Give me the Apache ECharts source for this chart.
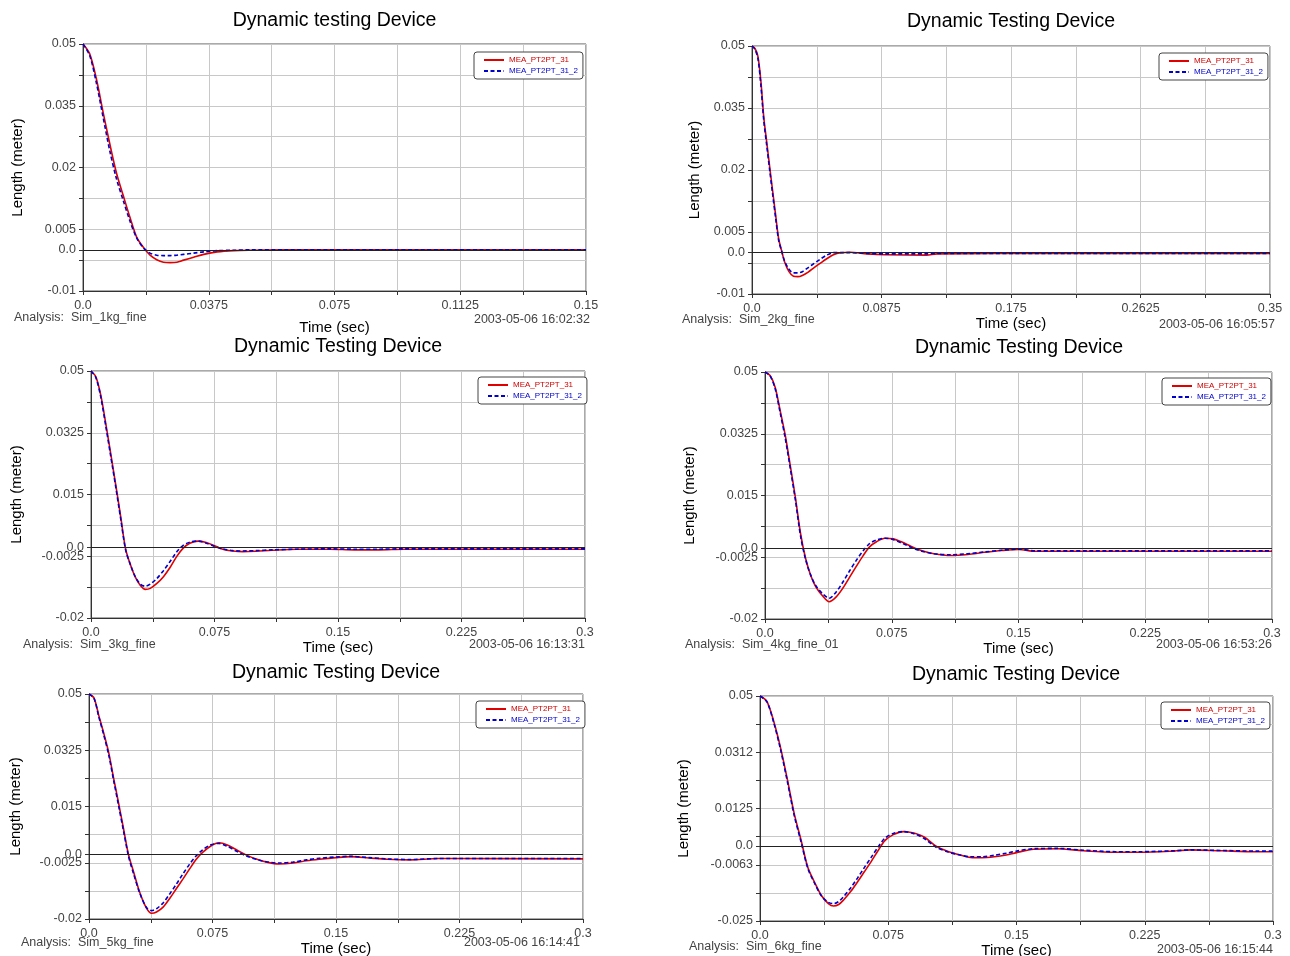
<!DOCTYPE html>
<html><head><meta charset="utf-8">
<script src="https://cdn.jsdelivr.net/npm/echarts@6/dist/echarts.min.js"></script>
<style>html,body{margin:0;padding:0;background:#fff}#c{width:1290px;height:956px}</style>
</head><body><div id="c"></div>
<script>
// ---------- data ----------
const seriesNames = ['MEA_PT2PT_31', 'MEA_PT2PT_31_2'];

const time1 = [0, 0.002, 0.004, 0.006, 0.008, 0.010, 0.012, 0.014, 0.016, 0.018, 0.020, 0.022, 0.024, 0.026, 0.028, 0.030, 0.033, 0.036, 0.040, 0.045, 0.050, 0.060, 0.080, 0.100, 0.120, 0.150];
const red1 = [0.05, 0.0476, 0.0415, 0.0334, 0.0257, 0.0186, 0.0132, 0.0079, 0.0031, 0.0006, -0.0013, -0.0024, -0.0030, -0.0031, -0.0030, -0.0025, -0.0018, -0.0011, -0.0005, -0.0002, -0.0001, 0, 0, 0, 0, 0];
const blue1 = [0.05, 0.0472, 0.0405, 0.0322, 0.0240, 0.0172, 0.0120, 0.0070, 0.0029, 0.0005, -0.0008, -0.0013, -0.0014, -0.0014, -0.0013, -0.0011, -0.0008, -0.0005, -0.0002, -0.0001, 0, 0, 0, 0, 0, 0];

const time2 = [0, 0.002, 0.004, 0.006, 0.008, 0.010, 0.012, 0.014, 0.016, 0.018, 0.020, 0.022, 0.025, 0.028, 0.031, 0.034, 0.038, 0.042, 0.046, 0.050, 0.055, 0.060, 0.066, 0.078, 0.090, 0.118, 0.125, 0.200, 0.350];
const red2 = [0.05, 0.0494, 0.0475, 0.0415, 0.0326, 0.0266, 0.0206, 0.0148, 0.0090, 0.0034, 0.0005, -0.0022, -0.0046, -0.0057, -0.0058, -0.0055, -0.0047, -0.0036, -0.0026, -0.0016, -0.0005, 0, 0.0001, -0.0003, -0.0005, -0.0006, -0.0003, -0.0002, -0.0002];
const blue2 = [0.05, 0.0492, 0.0470, 0.0405, 0.0318, 0.0258, 0.0198, 0.0140, 0.0083, 0.0030, 0.0004, -0.0020, -0.0040, -0.0049, -0.0049, -0.0046, -0.0036, -0.0026, -0.0016, -0.0007, 0, 0, 0, -0.0002, -0.0003, -0.0003, -0.0002, -0.0002, -0.0002];

const time3 = [0, 0.003, 0.006, 0.009, 0.012, 0.015, 0.018, 0.021, 0.024, 0.027, 0.030, 0.033, 0.036, 0.040, 0.044, 0.048, 0.052, 0.056, 0.060, 0.065, 0.070, 0.075, 0.080, 0.086, 0.092, 0.100, 0.110, 0.125, 0.145, 0.160, 0.175, 0.190, 0.300];
const red3 = [0.05, 0.0483, 0.0430, 0.0350, 0.0265, 0.0178, 0.0088, -0.0004, -0.0050, -0.0085, -0.0108, -0.0119, -0.0116, -0.0102, -0.0083, -0.0057, -0.0026, -0.0002, 0.0012, 0.0018, 0.0014, 0.0005, -0.0005, -0.0010, -0.0012, -0.0011, -0.0008, -0.0005, -0.0005, -0.0007, -0.0007, -0.0005, -0.0005];
const blue3 = [0.05, 0.0481, 0.0425, 0.0343, 0.0258, 0.0172, 0.0082, -0.0006, -0.0050, -0.0084, -0.0104, -0.0110, -0.0104, -0.0088, -0.0066, -0.0040, -0.0013, 0.0006, 0.0015, 0.0018, 0.0012, 0.0003, -0.0004, -0.0009, -0.0010, -0.0009, -0.0007, -0.0005, -0.0004, -0.0005, -0.0005, -0.0004, -0.0004];

const time4 = [0, 0.003, 0.006, 0.009, 0.012, 0.015, 0.018, 0.021, 0.024, 0.027, 0.030, 0.034, 0.038, 0.042, 0.046, 0.050, 0.054, 0.058, 0.062, 0.066, 0.071, 0.076, 0.081, 0.086, 0.092, 0.100, 0.110, 0.120, 0.130, 0.140, 0.150, 0.160, 0.300];
const red4 = [0.05, 0.0490, 0.0457, 0.0390, 0.0320, 0.0233, 0.0144, 0.0043, -0.0028, -0.0076, -0.0108, -0.0134, -0.0151, -0.0138, -0.0113, -0.0082, -0.0051, -0.0021, 0.0005, 0.0019, 0.0029, 0.0027, 0.0018, 0.0007, -0.0005, -0.0015, -0.0020, -0.0017, -0.0011, -0.0006, -0.0003, -0.0008, -0.0008];
const blue4 = [0.05, 0.0489, 0.0453, 0.0384, 0.0312, 0.0226, 0.0137, 0.0036, -0.0031, -0.0075, -0.0105, -0.0128, -0.0141, -0.0124, -0.0096, -0.0064, -0.0034, -0.0007, 0.0014, 0.0024, 0.0029, 0.0025, 0.0015, 0.0004, -0.0007, -0.0015, -0.0018, -0.0015, -0.0010, -0.0005, -0.0002, -0.0007, -0.0007];

const time5 = [0, 0.003, 0.006, 0.009, 0.012, 0.015, 0.018, 0.021, 0.024, 0.027, 0.031, 0.035, 0.038, 0.041, 0.045, 0.049, 0.053, 0.057, 0.061, 0.065, 0.069, 0.074, 0.079, 0.084, 0.090, 0.096, 0.102, 0.108, 0.115, 0.124, 0.132, 0.140, 0.150, 0.159, 0.170, 0.181, 0.195, 0.212, 0.300];
const red5 = [0.05, 0.0488, 0.0432, 0.0377, 0.0317, 0.0237, 0.0160, 0.0080, 0.0000, -0.0052, -0.0120, -0.0167, -0.0182, -0.0178, -0.0163, -0.0136, -0.0106, -0.0076, -0.0045, -0.0015, 0.0007, 0.0027, 0.0037, 0.0030, 0.0014, -0.0002, -0.0014, -0.0023, -0.0029, -0.0026, -0.0019, -0.0014, -0.0009, -0.0006, -0.0010, -0.0014, -0.0016, -0.0012, -0.0013];
const blue5 = [0.05, 0.0487, 0.0428, 0.0372, 0.0310, 0.0230, 0.0152, 0.0073, -0.0005, -0.0058, -0.0122, -0.0165, -0.0174, -0.0168, -0.0150, -0.0122, -0.0092, -0.0060, -0.0030, -0.0004, 0.0015, 0.0031, 0.0035, 0.0026, 0.0010, -0.0005, -0.0015, -0.0022, -0.0026, -0.0023, -0.0016, -0.0011, -0.0007, -0.0005, -0.0009, -0.0013, -0.0015, -0.0012, -0.0012];

const time6 = [0, 0.004, 0.008, 0.012, 0.016, 0.020, 0.024, 0.028, 0.032, 0.036, 0.040, 0.043, 0.046, 0.049, 0.053, 0.057, 0.061, 0.065, 0.069, 0.073, 0.078, 0.084, 0.090, 0.096, 0.103, 0.110, 0.117, 0.123, 0.130, 0.137, 0.144, 0.150, 0.160, 0.174, 0.189, 0.208, 0.222, 0.242, 0.252, 0.270, 0.290, 0.300];
const red6 = [0.05, 0.0482, 0.0416, 0.0328, 0.0222, 0.0108, 0.0020, -0.0072, -0.0122, -0.0166, -0.0192, -0.0200, -0.0195, -0.0179, -0.0152, -0.0120, -0.0086, -0.0052, -0.0016, 0.0018, 0.0038, 0.0048, 0.0043, 0.0030, -0.0001, -0.0018, -0.0030, -0.0038, -0.0039, -0.0036, -0.0030, -0.0022, -0.0011, -0.0009, -0.0016, -0.0021, -0.0021, -0.0017, -0.0013, -0.0016, -0.0019, -0.0019];
const blue6 = [0.05, 0.0481, 0.0412, 0.0322, 0.0215, 0.0102, 0.0014, -0.0075, -0.0125, -0.0167, -0.0188, -0.0192, -0.0185, -0.0168, -0.0140, -0.0107, -0.0072, -0.0038, -0.0004, 0.0026, 0.0042, 0.0048, 0.0041, 0.0025, -0.0004, -0.0020, -0.0030, -0.0036, -0.0036, -0.0031, -0.0024, -0.0017, -0.0009, -0.0008, -0.0014, -0.0019, -0.0019, -0.0016, -0.0013, -0.0015, -0.0017, -0.0017];

// ---------- tick values and tick labels ----------
const xTicks1 = [0, 0.01875, 0.0375, 0.05625, 0.075, 0.09375, 0.1125, 0.13125, 0.15];
const xLabels1 = ['0.0', '', '0.0375', '', '0.075', '', '0.1125', '', '0.15'];
const xTicks2 = [0, 0.04375, 0.0875, 0.13125, 0.175, 0.21875, 0.2625, 0.30625, 0.35];
const xLabels2 = ['0.0', '', '0.0875', '', '0.175', '', '0.2625', '', '0.35'];
const xTicks3 = [0, 0.0375, 0.075, 0.1125, 0.15, 0.1875, 0.225, 0.2625, 0.3];
const xLabels3 = ['0.0', '', '0.075', '', '0.15', '', '0.225', '', '0.3'];

const yTicksA = [-0.01, -0.0025, 0, 0.005, 0.0125, 0.02, 0.0275, 0.035, 0.0425, 0.05];
const yLabelsA = ['-0.01', '', '0.0', '0.005', '', '0.02', '', '0.035', '', '0.05'];
const yTicksB = [-0.02, -0.01125, -0.0025, 0, 0.00625, 0.015, 0.02375, 0.0325, 0.04125, 0.05];
const yLabelsB = ['-0.02', '', '-0.0025', '0.0', '', '0.015', '', '0.0325', '', '0.05'];
const yTicksC = [-0.025, -0.015625, -0.00625, 0, 0.003125, 0.0125, 0.021875, 0.03125, 0.040625, 0.05];
const yLabelsC = ['-0.025', '', '-0.0063', '0.0', '', '0.0125', '', '0.0312', '', '0.05'];

const titles = ['Dynamic testing Device', 'Dynamic Testing Device', 'Dynamic Testing Device', 'Dynamic Testing Device', 'Dynamic Testing Device', 'Dynamic Testing Device'];
const analyses = ['Analysis:  Sim_1kg_fine', 'Analysis:  Sim_2kg_fine', 'Analysis:  Sim_3kg_fine', 'Analysis:  Sim_4kg_fine_01', 'Analysis:  Sim_5kg_fine', 'Analysis:  Sim_6kg_fine'];
const dates = ['2003-05-06 16:02:32', '2003-05-06 16:05:57', '2003-05-06 16:13:31', '2003-05-06 16:53:26', '2003-05-06 16:14:41', '2003-05-06 16:15:44'];
const xAxisName = 'Time (sec)';
const yAxisName = 'Length (meter)';

// ---------- layout ----------
const FONT = '"Liberation Sans", Arial, Helvetica, sans-serif';
const panels = [
  {t: time1, r: red1, b: blue1, xT: xTicks1, xL: xLabels1, yT: yTicksA, yL: yLabelsA, xMax: 0.15, yMin: -0.01,
   g: [83, 44, 503, 247], tc: [334.5, 22], ac: [14, 317.5], dc: [590, 320], xGap: 29, yGap: 58, lg: [474, 52]},
  {t: time2, r: red2, b: blue2, xT: xTicks2, xL: xLabels2, yT: yTicksA, yL: yLabelsA, xMax: 0.35, yMin: -0.01,
   g: [752, 46, 518, 248], tc: [1011, 23], ac: [682, 320], dc: [1275, 325], xGap: 20, yGap: 50, lg: [1159, 53]},
  {t: time3, r: red3, b: blue3, xT: xTicks3, xL: xLabels3, yT: yTicksB, yL: yLabelsB, xMax: 0.3, yMin: -0.02,
   g: [91, 371, 494, 247], tc: [338, 348], ac: [23, 645], dc: [585, 645], xGap: 18, yGap: 67, lg: [478, 377]},
  {t: time4, r: red4, b: blue4, xT: xTicks3, xL: xLabels3, yT: yTicksB, yL: yLabelsB, xMax: 0.3, yMin: -0.02,
   g: [765, 372, 507, 247], tc: [1019, 349], ac: [685, 645], dc: [1272, 645], xGap: 18, yGap: 68, lg: [1162, 378]},
  {t: time5, r: red5, b: blue5, xT: xTicks3, xL: xLabels3, yT: yTicksB, yL: yLabelsB, xMax: 0.3, yMin: -0.02,
   g: [89, 694, 494, 225], tc: [336, 674], ac: [21, 943], dc: [580, 943], xGap: 13, yGap: 66, lg: [476, 701]},
  {t: time6, r: red6, b: blue6, xT: xTicks3, xL: xLabels3, yT: yTicksC, yL: yLabelsC, xMax: 0.3, yMin: -0.025,
   g: [760, 696, 513, 225], tc: [1016, 676], ac: [689, 946.5], dc: [1273, 950], xGap: 17, yGap: 69, lg: [1161, 702]}
];

function labelFor(ticks, labels) {
  return function (v) {
    for (let i = 0; i < ticks.length; i++) if (Math.abs(ticks[i] - v) < 1e-9) return labels[i];
    return '';
  };
}
function labelled(ticks, labels) { return ticks.filter((v, i) => labels[i] !== ''); }

const grid = [], xAxis = [], yAxis = [], series = [], title = [], legend = [], graphic = [];
panels.forEach((p, i) => {
  grid.push({left: p.g[0], top: p.g[1], width: p.g[2], height: p.g[3], containLabel: false, outerBoundsMode: 'none',
             show: true, borderColor: '#555', borderWidth: 1, backgroundColor: '#fff'});
  xAxis.push({type: 'value', gridIndex: i, min: 0, max: p.xMax,
    name: xAxisName, nameLocation: 'middle', nameGap: p.xGap,
    nameTextStyle: {fontFamily: FONT, fontSize: 15, color: '#000', verticalAlign: 'top'},
    axisLine: {show: true, onZero: false, lineStyle: {color: '#333', width: 1}},
    axisTick: {show: true, length: 4, inside: false, customValues: p.xT, lineStyle: {color: '#333'}},
    axisLabel: {show: true, customValues: labelled(p.xT, p.xL), formatter: labelFor(p.xT, p.xL), margin: 8,
                fontFamily: FONT, fontSize: 12.5, color: '#444', hideOverlap: false},
    splitLine: {show: true, lineStyle: {color: '#c8c8c8', width: 1}},
    minorTick: {show: false}, minorSplitLine: {show: false}});
  yAxis.push({type: 'value', gridIndex: i, min: p.yMin, max: 0.05,
    name: yAxisName, nameLocation: 'middle', nameGap: p.yGap, nameRotate: 90,
    nameTextStyle: {fontFamily: FONT, fontSize: 15, color: '#000'},
    axisLine: {show: true, onZero: false, lineStyle: {color: '#333', width: 1}},
    axisTick: {show: true, length: 4, inside: false, customValues: p.yT, lineStyle: {color: '#333'}},
    axisLabel: {show: true, customValues: labelled(p.yT, p.yL), formatter: labelFor(p.yT, p.yL), margin: 7,
                fontFamily: FONT, fontSize: 12.5, color: '#444', hideOverlap: false},
    splitLine: {show: true, lineStyle: {color: '#c8c8c8', width: 1}}});
  series.push({type: 'line', name: seriesNames[0], xAxisIndex: i, yAxisIndex: i,
    data: p.t.map((x, k) => [x, p.r[k]]), symbol: 'none', smooth: 0.3, z: 3,
    lineStyle: {color: '#e00000', width: 1.6}, itemStyle: {color: '#e00000'},
    markLine: {silent: true, symbol: ['none', 'none'], label: {show: false}, animation: false,
               lineStyle: {color: '#222', width: 1, type: 'solid'}, data: [{yAxis: 0}]}});
  series.push({type: 'line', name: seriesNames[1], xAxisIndex: i, yAxisIndex: i,
    data: p.t.map((x, k) => [x, p.b[k]]), symbol: 'none', smooth: 0.3, z: 4,
    lineStyle: {color: '#0000cc', width: 1.6, type: [4, 2.5]}, itemStyle: {color: '#0000cc'}});
  title.push({text: titles[i], left: p.tc[0], top: p.tc[1] - 11, textAlign: 'center', textVerticalAlign: 'top', padding: 0,
    textStyle: {fontFamily: FONT, fontSize: 19.5, fontWeight: 'normal', color: '#000'}});
  legend.push({orient: 'vertical', left: p.lg[0], top: p.lg[1], padding: [4, 5, 4, 9],
    itemWidth: 20, itemHeight: 8, itemGap: 3, selectedMode: false,
    borderColor: '#444', borderWidth: 1, borderRadius: 3, backgroundColor: '#fff',
    itemStyle: {opacity: 0},
    textStyle: {fontFamily: FONT, fontSize: 8},
    data: [{name: seriesNames[0], textStyle: {color: '#d00000'}}, {name: seriesNames[1], textStyle: {color: '#0000cc'}}]});
  graphic.push({type: 'text', x: p.ac[0], y: p.ac[1], silent: true,
    style: {text: analyses[i], font: '12.5px ' + FONT, fill: '#444', align: 'left', verticalAlign: 'middle'}});
  graphic.push({type: 'text', x: p.dc[0], y: p.dc[1], silent: true,
    style: {text: dates[i], font: '12.5px ' + FONT, fill: '#444', align: 'right', verticalAlign: 'middle'}});
});

const chart = echarts.init(document.getElementById('c'), null, {renderer: 'canvas'});
chart.setOption({backgroundColor: '#fff', animation: false, textStyle: {fontFamily: FONT},
  grid, xAxis, yAxis, series, title, legend, graphic});
</script>
</body></html>
